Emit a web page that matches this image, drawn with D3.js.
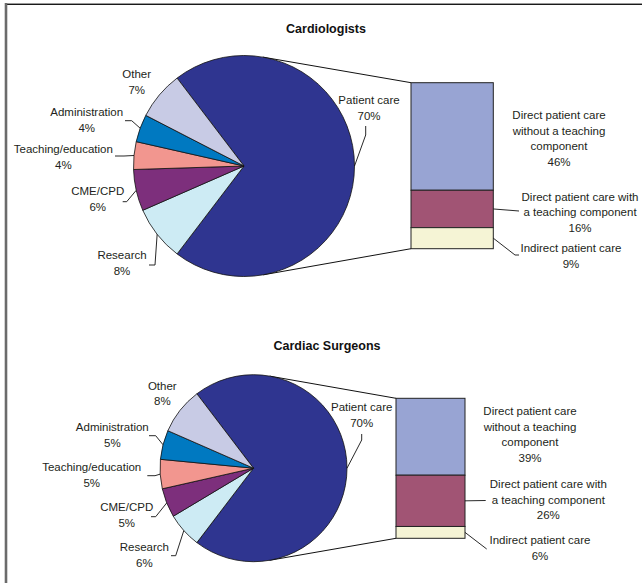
<!DOCTYPE html>
<html><head><meta charset="utf-8">
<script src="https://cdn.jsdelivr.net/npm/d3@7"></script>
<style>
html,body{margin:0;padding:0;background:#fff;}
svg{display:block;font-family:"Liberation Sans",Arial,sans-serif;}
</style></head>
<body>
<svg id="chart" width="642" height="583"></svg>
<script>
// ---------------- data ----------------
const sliceCategories = ["Patient care","Research","CME/CPD","Teaching/education","Administration","Other"];
const cardiologistValues = [70, 8, 6, 4, 4, 7];
const surgeonValues = [70, 6, 5, 5, 5, 8];
const breakdownCategories = ["Direct patient care without a teaching component","Direct patient care with a teaching component","Indirect patient care"];
const cardiologistBreakdown = [46, 16, 9];
const surgeonBreakdown = [39, 26, 6];
const panelTitles = ["Cardiologists", "Cardiac Surgeons"];

// ---------------- styles ----------------
const sliceColors = ["#2f3590","#cdebf4","#7d2f7c","#f2968f","#0079c1","#c8cbe5"];
const barColors = ["#98a4d3","#a15474","#f5f4d5"];
const sliceLabelLines = [["Patient care"],["Research"],["CME/CPD"],["Teaching/education"],["Administration"],["Other"]];
const barLabelLines = [["Direct patient care","without a teaching","component"],["Direct patient care with","a teaching component"],["Indirect patient care"]];

// ---------------- layout ----------------
const panels = [
  {
    title: panelTitles[0], titleX: 326, titleY: 32.5,
    values: cardiologistValues, breakdown: cardiologistBreakdown,
    cx: 244, cy: 166, r: 110.5,
    barX0: 411, barX1: 493.3, barY0: 82.7, barY1: 248.7,
    sliceLabels: [
      {x: 369, y: 104, leader: [[365.7,126],[365.7,135]]},
      {x: 122, y: 259, leader: [[149,265],[155,265]]},
      {x: 97.7, y: 195, leader: [[122.7,201.7],[126.7,201.7]]},
      {x: 63.3, y: 153, leader: [[115,156],[124,156]]},
      {x: 86.7, y: 116, leader: [[125,120.7],[131.7,120.7]]},
      {x: 136.7, y: 78, leader: null}
    ],
    barLabels: [
      {x: 559, y: 119, leader: null},
      {x: 580, y: 200.7, leader: [[519,211]]},
      {x: 571, y: 252.3, leader: [[515,255],[519,255]]}
    ]
  },
  {
    title: panelTitles[1], titleX: 327, titleY: 349.5,
    values: surgeonValues, breakdown: surgeonBreakdown,
    cx: 253.5, cy: 468.2, r: 93.5,
    barX0: 396, barX1: 465, barY0: 398.3, barY1: 538.3,
    sliceLabels: [
      {x: 361.7, y: 411.3, leader: [[361.7,434],[361.7,440]]},
      {x: 144.3, y: 551.3, leader: [[171,555.7],[175.7,555.7]]},
      {x: 126.7, y: 511.3, leader: [[151,516.7],[155.7,516.7]]},
      {x: 91.7, y: 471.3, leader: [[147.3,475.7],[155,475.7]]},
      {x: 112.3, y: 431.3, leader: [[149,435.7],[155.7,435.7]]},
      {x: 162.3, y: 389.7, leader: null}
    ],
    barLabels: [
      {x: 530, y: 415, leader: null},
      {x: 548.3, y: 488, leader: [[485.7,500.5]]},
      {x: 540, y: 544, leader: [[486.7,549]]}
    ]
  }
];

const svg = d3.select("#chart");
const lineH = 15.7;
const fontSize = 11.5;
const textColor = "#231f20";

// frame
svg.append("line").attr("x1",6).attr("x2",642).attr("y1",3.5).attr("y2",3.5).attr("stroke","#999").attr("stroke-width",1);
svg.append("line").attr("x1",6).attr("x2",642).attr("y1",4.5).attr("y2",4.5).attr("stroke","#1a1a1a").attr("stroke-width",1.2);
svg.append("line").attr("x1",6).attr("x2",6).attr("y1",3).attr("y2",583).attr("stroke","#6b6b6b").attr("stroke-width",2.6);

const line = d3.line();

function tangentPoint(cx, cy, r, px, py, upper) {
  const dx = px - cx, dy = py - cy;
  const d = Math.hypot(dx, dy);
  const th = Math.atan2(dy, dx);
  const a = Math.acos(r / d);
  const t = upper ? th - a : th + a;
  return [cx + r * Math.cos(t), cy + r * Math.sin(t)];
}

function drawLabel(g, lines, x, y, pct) {
  const t = g.append("text").attr("x", x).attr("y", y)
    .attr("text-anchor","middle").attr("font-size", fontSize).attr("fill", textColor);
  const all = lines.concat([pct + "%"]);
  all.forEach((s, i) => {
    t.append("tspan").attr("x", x).attr("dy", i === 0 ? 0 : lineH).text(s);
  });
}

panels.forEach(p => {
  const g = svg.append("g");

  // title
  g.append("text").attr("x", p.titleX).attr("y", p.titleY).attr("text-anchor","middle")
    .attr("font-size", 12.5).attr("font-weight","bold").attr("fill", "#111").text(p.title);

  // pie
  const total = d3.sum(p.values);
  const firstAngle = p.values[0] / total * 2 * Math.PI;
  const start = Math.PI / 2 - firstAngle / 2;
  const pie = d3.pie().sort(null).startAngle(start).endAngle(start + 2 * Math.PI);
  const arcs = pie(p.values);
  const arc = d3.arc().innerRadius(0).outerRadius(p.r);

  // bar scale
  const bTotal = d3.sum(p.breakdown);
  const y = d3.scaleLinear().domain([0, bTotal]).range([p.barY0, p.barY1]);
  const stack = d3.stack().keys(breakdownCategories)([Object.fromEntries(breakdownCategories.map((k, i) => [k, p.breakdown[i]]))]);

  // connector (series) lines: tangents from bar corners to the pie
  const topCorner = [p.barX0, y(0)];
  const botCorner = [p.barX0, y(bTotal)];
  const tTop = tangentPoint(p.cx, p.cy, p.r, topCorner[0], topCorner[1], true);
  const tBot = tangentPoint(p.cx, p.cy, p.r, botCorner[0], botCorner[1], false);
  g.append("path").attr("d", line([tTop, topCorner])).attr("stroke","#111").attr("stroke-width",1).attr("fill","none");
  g.append("path").attr("d", line([tBot, botCorner])).attr("stroke","#111").attr("stroke-width",1).attr("fill","none");

  const pg = g.append("g").attr("transform", `translate(${p.cx},${p.cy})`);
  pg.selectAll("path").data(arcs).join("path")
    .attr("d", arc)
    .attr("fill", (d, i) => sliceColors[i])
    .attr("stroke", "#111").attr("stroke-width", 0.8).attr("stroke-linejoin","round");

  // bar
  g.selectAll("rect.seg").data(stack).join("rect").attr("class","seg")
    .attr("x", p.barX0).attr("width", p.barX1 - p.barX0)
    .attr("y", d => y(d[0][0])).attr("height", d => y(d[0][1]) - y(d[0][0]))
    .attr("fill", (d, i) => barColors[i])
    .attr("stroke", "#222").attr("stroke-width", 1);

  // slice labels + leaders
  arcs.forEach((a, i) => {
    const L = p.sliceLabels[i];
    drawLabel(g, sliceLabelLines[i], L.x, L.y, p.values[i]);
    if (L.leader) {
      const mid = (a.startAngle + a.endAngle) / 2;
      const edge = [p.cx + p.r * Math.sin(mid), p.cy - p.r * Math.cos(mid)];
      g.append("path").attr("d", line(L.leader.concat([edge])))
        .attr("stroke","#111").attr("stroke-width",0.9).attr("fill","none");
    }
  });

  // bar labels + leaders
  stack.forEach((s, i) => {
    const L = p.barLabels[i];
    drawLabel(g, barLabelLines[i], L.x, L.y, p.breakdown[i]);
    if (L.leader) {
      const midY = (y(s[0][0]) + y(s[0][1])) / 2;
      g.append("path").attr("d", line([[p.barX1, midY]].concat(L.leader)))
        .attr("stroke","#111").attr("stroke-width",0.9).attr("fill","none");
    }
  });
});
</script>
</body></html>
